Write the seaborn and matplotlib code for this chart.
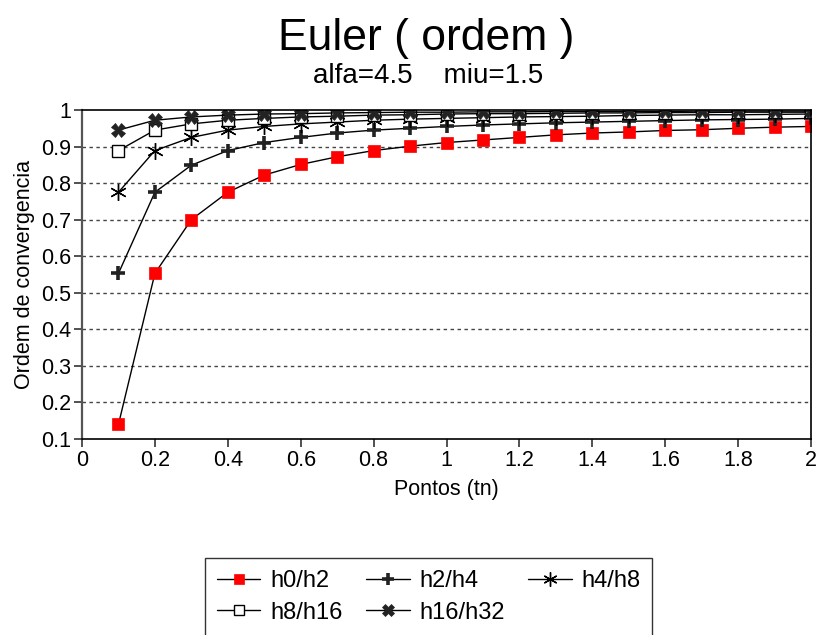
import numpy as np
import pandas as pd
import matplotlib
matplotlib.use("Agg")
import matplotlib.pyplot as plt
import seaborn as sns

sns.set_style("white")
plt.rcParams['font.family'] = ['Liberation Sans', 'DejaVu Sans']
plt.rcParams['text.color'] = 'black'
plt.rcParams['axes.labelcolor'] = 'black'
plt.rcParams['xtick.color'] = 'black'
plt.rcParams['ytick.color'] = 'black'

x = [0.1, 0.2, 0.3, 0.4, 0.5, 0.6, 0.7, 0.8, 0.9, 1.0,
     1.1, 1.2, 1.3, 1.4, 1.5, 1.6, 1.7, 1.8, 1.9, 2.0]

h0_h2 = [0.140, 0.553, 0.700, 0.775, 0.822, 0.851, 0.872, 0.889, 0.901, 0.911,
         0.918, 0.925, 0.932, 0.937, 0.940, 0.944, 0.946, 0.950, 0.953, 0.955]
h2_h4 = [0.553, 0.775, 0.849, 0.889, 0.911, 0.925, 0.937, 0.945, 0.950, 0.955,
         0.959, 0.962, 0.965, 0.967, 0.969, 0.971, 0.973, 0.974, 0.975, 0.977]
h4_h8 = [0.775, 0.889, 0.925, 0.945, 0.955, 0.962, 0.967, 0.972, 0.975, 0.977,
         0.979, 0.981, 0.982, 0.983, 0.985, 0.986, 0.987, 0.987, 0.988, 0.989]
h8_h16 = [0.889, 0.945, 0.962, 0.972, 0.977, 0.981, 0.983, 0.986, 0.987, 0.989,
          0.990, 0.990, 0.991, 0.992, 0.992, 0.993, 0.993, 0.994, 0.994, 0.994]
h16_h32 = [0.945, 0.972, 0.981, 0.986, 0.989, 0.990, 0.992, 0.993, 0.994, 0.994,
           0.995, 0.995, 0.996, 0.996, 0.996, 0.996, 0.997, 0.997, 0.997, 0.997]

labels = ["h0/h2", "h2/h4", "h4/h8", "h8/h16", "h16/h32"]
series = [h0_h2, h2_h4, h4_h8, h8_h16, h16_h32]

xticks = [0, 0.2, 0.4, 0.6, 0.8, 1, 1.2, 1.4, 1.6, 1.8, 2]
yticks = [0.1, 0.2, 0.3, 0.4, 0.5, 0.6, 0.7, 0.8, 0.9, 1]

styles = [
    dict(marker='s', markersize=9, markerfacecolor='#ff0000', markeredgecolor='#ff0000', markeredgewidth=0.5),
    dict(marker='+', markersize=10, markerfacecolor='#222222', markeredgecolor='#222222', markeredgewidth=2.6),
    dict(marker=(6, 2, 0), markersize=12, markerfacecolor='none', markeredgecolor='black', markeredgewidth=1.0),
    dict(marker='s', markersize=9, markerfacecolor='white', markeredgecolor='black', markeredgewidth=1.0),
    dict(marker='X', markersize=10, markerfacecolor='#222222', markeredgecolor='#222222', markeredgewidth=0.5),
]

fig = plt.figure(figsize=(8.17, 6.35), dpi=100)
L, R, T, B = 82, 811, 110, 439
ax = fig.add_axes([L/817, 1-B/635, (R-L)/817, (B-T)/635])

for lab, vals, st in zip(labels, series, styles):
    df = pd.DataFrame({"x": x, "y": vals})
    sns.lineplot(data=df, x="x", y="y", ax=ax, color='black', linewidth=1.0,
                 label=lab, **st)

ax.set_xlim(0, 2)
ax.set_ylim(0.1, 1)
ax.set_xticks(xticks)
ax.set_yticks(yticks)
ax.set_xticklabels([f"{t:g}" for t in xticks])
ax.set_yticklabels([f"{t:g}" for t in yticks])
for t in yticks[1:-1]:
    ax.axhline(t, color='#444444', linestyle=(0, (2.5, 2.5)), linewidth=1.0, zorder=0)

for s in ax.spines.values():
    s.set_visible(True)
    s.set_color('black')
    s.set_linewidth(1.2)
ax.spines['left'].set_color('#555555')
ax.spines['left'].set_linewidth(1.6)
ax.tick_params(direction='out', length=6, width=1.2, color='#333333',
               labelsize=15.5, bottom=True, left=True, pad=2)
ax.set_xlabel("Pontos (tn)", fontsize=15.5, labelpad=6)
ax.set_ylabel("Ordem de convergencia", fontsize=15.5, labelpad=4)

fig.text(0.522, 1-50/635, "Euler ( ordem )", ha='center', va='baseline', fontsize=32)
fig.text(0.524, 1-83/635, "alfa=4.5    miu=1.5", ha='center', va='baseline', fontsize=20)

ax.get_legend().remove()
h, l = ax.get_legend_handles_labels()
order = [0, 3, 1, 4, 2]
leg = fig.legend([h[i] for i in order], [l[i] for i in order],
                 loc='upper left', bbox_to_anchor=(205/817, 1-558/635),
                 ncol=3, fontsize=17, frameon=True, fancybox=False,
                 edgecolor='black', borderpad=0.5, handlelength=1.85,
                 columnspacing=1.0, handletextpad=0.4, labelspacing=0.42,
                 borderaxespad=0, markerscale=0.85)
leg.get_frame().set_linewidth(1.0)

fig.savefig("out.png", dpi=100)
